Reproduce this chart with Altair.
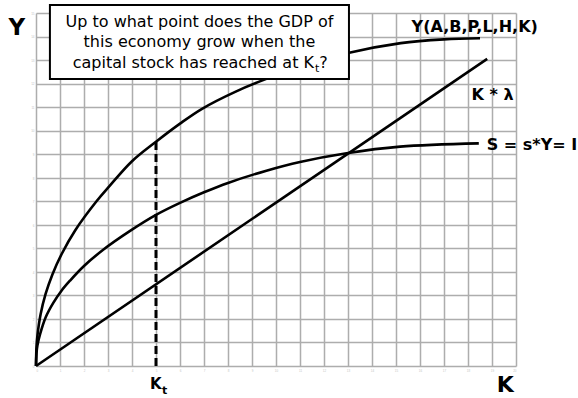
import altair as alt
import pandas as pd

# Production function Y(K)
k_y = [0, 0.02, 0.06, 0.19, 0.4, 0.68, 1.07, 1.63, 2.53, 3.05, 4.0, 5.0, 6.0, 6.9, 8.3, 9.6, 11.3, 13.0, 15.2, 17.0, 18.5]
y_y = [0, 0.8, 1.3, 2.19, 3.06, 3.88, 4.76, 5.76, 7.01, 7.63, 8.7, 9.53, 10.3, 10.92, 11.65, 12.2, 12.8, 13.3, 13.72, 13.88, 13.93]

# Savings curve S = s*Y = I
k_s = [0, 0.02, 0.06, 0.17, 0.4, 0.72, 1.07, 1.42, 2.0, 2.8, 3.92, 5.0, 6.0, 7.0, 8.0, 9.6, 11.0, 12.94, 15.17, 18.45]
y_s = [0, 0.54, 0.88, 1.35, 2.06, 2.68, 3.21, 3.63, 4.25, 4.94, 5.74, 6.42, 6.93, 7.38, 7.78, 8.3, 8.67, 9.04, 9.32, 9.46]

# Depreciation line K * lambda
k_d = [0, 18.8]
y_d = [0, 13.05]

# Capital stock K_t and output at K_t
kt = 5.0
y_kt = 9.53

x_ticks = list(range(0, 21))
y_ticks = list(range(0, 16))

FONT = "DejaVu Sans"

curves = pd.concat([
    pd.DataFrame({"k": k_y, "v": y_y, "series": "Y"}),
    pd.DataFrame({"k": k_s, "v": y_s, "series": "S"}),
    pd.DataFrame({"k": k_d, "v": y_d, "series": "KL"}),
])

xs = alt.Scale(domain=[0, 20], nice=False, zero=False)
ys = alt.Scale(domain=[0, 15], nice=False, zero=False)

x_axis = alt.Axis(values=x_ticks, grid=True, gridColor="#adadad", gridWidth=1.5,
                  domain=False, ticks=False, labelFontSize=3, labelColor="#c4c4c4",
                  labelPadding=3, labelOverlap=False, title=None)
y_axis = alt.Axis(values=y_ticks, grid=True, gridColor="#adadad", gridWidth=1.5,
                  domain=False, ticks=False, labelFontSize=3, labelColor="#c4c4c4",
                  labelPadding=2, labelOverlap=False, title=None)


def X(field):
    return alt.X(field, scale=xs, axis=x_axis)


def Y(field):
    return alt.Y(field, scale=ys, axis=y_axis)


lines = alt.Chart(curves).mark_line(color="black", strokeWidth=2.6, interpolate="catmull-rom").encode(
    x=X("k:Q"), y=Y("v:Q"), detail="series:N",
)

dash = alt.Chart(pd.DataFrame({"k": [kt], "v0": [0], "v1": [y_kt]})).mark_rule(
    color="black", strokeWidth=3, strokeDash=[8, 4]
).encode(x=X("k:Q"), y=Y("v0:Q"), y2="v1:Q")

box = alt.Chart(pd.DataFrame({"x0": [0.58], "x1": [13.04], "y0": [12.2], "y1": [15.34]})).mark_rect(
    fill="white", stroke="black", strokeWidth=2
).encode(x=X("x0:Q"), x2="x1:Q", y=Y("y0:Q"), y2="y1:Q")


def label(df, **kw):
    return alt.Chart(pd.DataFrame(df)).mark_text(font=FONT, color="black", baseline="alphabetic", **kw).encode(
        x=X("x:Q"), y=Y("y:Q"), text="t:N"
    )


box_center = label({"x": [6.81, 6.81], "y": [14.42, 13.57],
                    "t": ["Up to what point does the GDP of", "this economy grow when the"]},
                   fontSize=16, align="center")
box_left = label({"x": [1.53, 11.8], "y": [12.65, 12.65],
                  "t": ["capital stock has reached at K", "?"]}, fontSize=16, align="left")
box_sub = label({"x": [11.62], "y": [12.49], "t": ["t"]}, fontSize=11, align="left")

curve_labels = label({"x": [15.65, 18.15, 18.78], "y": [14.21, 11.30, 9.18],
                      "t": ["Y(A,B,P,L,H,K)", "K * λ", "S = s*Y= I"]},
                     fontSize=16, fontWeight="bold", align="left")

axis_y = label({"x": [-1.15], "y": [14.07], "t": ["Y"]}, fontSize=23, fontWeight="bold", align="left")
axis_k = label({"x": [19.2], "y": [-1.12], "t": ["K"]}, fontSize=22, fontWeight="bold", align="left")
kt_lab = label({"x": [4.75], "y": [-0.98], "t": ["K"]}, fontSize=15, fontWeight="bold", align="left")
kt_sub = label({"x": [5.25], "y": [-1.17], "t": ["t"]}, fontSize=11, fontWeight="bold", align="left")

chart = alt.layer(
    lines, dash, box, box_center, box_left, box_sub, curve_labels, axis_y, axis_k, kt_lab, kt_sub
).properties(
    width=480, height=353,
    autosize=alt.AutoSizeParams(type="none"),
    padding={"left": 36, "top": 13, "right": 62, "bottom": 32},
    background="white",
).configure_view(stroke=None)

chart.save("out.html", embed_options={"renderer": "svg", "actions": False})
